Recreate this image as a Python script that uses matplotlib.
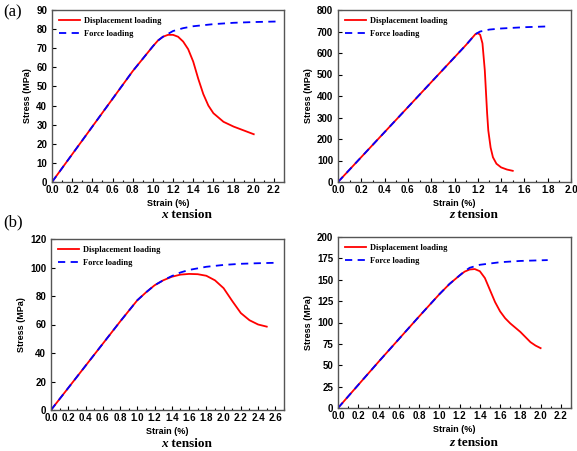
import matplotlib.pyplot as plt
import matplotlib
import numpy as np
from matplotlib.ticker import MultipleLocator

matplotlib.rcParams['font.family'] = 'Liberation Sans'
matplotlib.rcParams['font.weight'] = 'bold'

# (a) x tension
ax_disp_x = [0.0, 0.2, 0.4, 0.6, 0.8, 1.0, 1.05, 1.1, 1.15, 1.2, 1.25, 1.3, 1.35, 1.4, 1.45, 1.5, 1.55, 1.6, 1.7, 1.8, 1.9, 2.0]
ax_disp_y = [0, 14.5, 29, 43.5, 58, 71, 74, 76, 77, 77, 76, 73.5, 69.5, 63, 54, 46, 40, 36, 31.5, 29, 27, 25]
ax_force_x = [0.0, 0.2, 0.4, 0.6, 0.8, 1.0, 1.05, 1.1, 1.15, 1.2, 1.3, 1.4, 1.6, 1.8, 2.0, 2.25]
ax_force_y = [0, 14.5, 29, 43.5, 58, 71, 74, 76, 77.5, 79, 80.5, 81.5, 82.6, 83.3, 83.7, 84]

# (a) z tension
az_disp_x = [0.0, 0.2, 0.4, 0.6, 0.8, 1.0, 1.1, 1.18, 1.2, 1.22, 1.24, 1.26, 1.27, 1.28, 1.29, 1.31, 1.33, 1.36, 1.4, 1.45, 1.5]
az_disp_y = [0, 116, 232, 348, 464, 580, 638, 688, 692, 685, 645, 520, 420, 320, 240, 160, 115, 85, 68, 58, 52]
az_force_x = [0.0, 0.2, 0.4, 0.6, 0.8, 1.0, 1.1, 1.18, 1.22, 1.3, 1.4, 1.6, 1.82]
az_force_y = [0, 116, 232, 348, 464, 580, 638, 688, 700, 709, 714, 720, 724]

# (b) x tension
bx_disp_x = [0.0, 0.2, 0.4, 0.6, 0.8, 1.0, 1.1, 1.2, 1.3, 1.4, 1.5, 1.6, 1.7, 1.8, 1.9, 2.0, 2.1, 2.2, 2.3, 2.4, 2.5]
bx_disp_y = [0, 15.5, 31, 46.5, 62, 77, 82.5, 87.5, 91, 93.5, 95, 95.5, 95.3, 94.2, 91, 85.5, 76.5, 68, 63, 60, 58.5]
bx_force_x = [0.0, 0.2, 0.4, 0.6, 0.8, 1.0, 1.1, 1.2, 1.3, 1.4, 1.5, 1.6, 1.8, 2.0, 2.2, 2.4, 2.6]
bx_force_y = [0, 15.5, 31, 46.5, 62, 77, 82.5, 87.5, 91, 94, 96.5, 98.3, 100.5, 101.8, 102.6, 103, 103.3]

# (b) z tension
bz_disp_x = [0.0, 0.2, 0.4, 0.6, 0.8, 1.0, 1.1, 1.2, 1.25, 1.3, 1.35, 1.4, 1.45, 1.5, 1.55, 1.6, 1.65, 1.7, 1.75, 1.8, 1.85, 1.9, 1.95, 2.0]
bz_disp_y = [0, 27, 54, 80.5, 107, 133, 145, 155, 159.5, 162, 162.5, 160, 152, 138, 124, 113, 105, 99, 94, 89, 83, 77, 73, 70]
bz_force_x = [0.0, 0.2, 0.4, 0.6, 0.8, 1.0, 1.1, 1.2, 1.25, 1.3, 1.4, 1.6, 1.8, 2.07]
bz_force_y = [0, 27, 54, 80.5, 107, 133, 145, 155, 160, 164, 167.5, 170.5, 172, 173]

W, H = 577, 451
fig = plt.figure(figsize=(W / 100, H / 100), dpi=100)


def make_axes(l, r, t, b):
    return fig.add_axes([l / W, 1 - b / H, (r - l) / W, (b - t) / H])


# axes, data, xmax, ymax, ystep, caption name, caption y (px)
panels = [
    (make_axes(52, 284, 10, 182), ax_disp_x, ax_disp_y, ax_force_x, ax_force_y, 2.3, 90, 10, 'x', 215),
    (make_axes(338, 571, 10, 182), az_disp_x, az_disp_y, az_force_x, az_force_y, 2.0, 800, 100, 'z', 215),
    (make_axes(51, 284, 239, 410), bx_disp_x, bx_disp_y, bx_force_x, bx_force_y, 2.7, 120, 20, 'x', 444),
    (make_axes(338, 571, 237, 408), bz_disp_x, bz_disp_y, bz_force_x, bz_force_y, 2.3, 200, 25, 'z', 443),
]

for ax, dx, dy, fx, fy, xmax, ymax, ystep, name, cy in panels:
    ax.plot(dx, dy, color='#ff0000', lw=1.3, label='Displacement loading')
    ax.plot(fx, fy, color='#0000ff', lw=1.3, ls=(0, (4, 3)), label='Force loading')
    ax.set_xlim(0, xmax)
    ax.set_ylim(0, ymax)
    ax.xaxis.set_major_locator(MultipleLocator(0.2))
    ax.xaxis.set_minor_locator(MultipleLocator(0.1))
    ax.yaxis.set_major_locator(MultipleLocator(ystep))
    ax.tick_params(which='both', direction='in', labelsize=7, width=0.8, pad=2)
    ax.tick_params(axis='y', pad=3.5)
    ax.tick_params(which='major', length=3)
    ax.tick_params(which='minor', length=1.8)
    for s in ax.spines.values():
        s.set_color('#555555')
        s.set_linewidth(1.0)
    ax.set_xlabel('Strain (%)', fontsize=6.5, fontweight='bold', labelpad=3)
    ax.set_ylabel('Stress (MPa)', fontsize=6.5, fontweight='bold', labelpad=3)
    ax.legend(loc='upper left', frameon=False, handlelength=2.5, handletextpad=0.45,
              borderaxespad=0.35, borderpad=0.5, labelspacing=0.6,
              prop={'family': 'Liberation Serif', 'weight': 'bold', 'size': 6.0})
    bb = ax.get_position()
    cx = (bb.x0 + bb.x1) / 2
    fig.text(cx, 1 - cy / H, name, ha='right', va='center',
             fontsize=9.5, family='Liberation Serif', style='italic', fontweight='bold')
    fig.text(cx, 1 - cy / H, ' tension', ha='left', va='center',
             fontsize=9.5, family='Liberation Serif', fontweight='bold')

fig.text(3 / W, 1 - 12 / H, '(a)', fontsize=12, family='Liberation Serif', fontweight='normal', va='center')
fig.text(3 / W, 1 - 222 / H, '(b)', fontsize=12, family='Liberation Serif', fontweight='normal', va='center')

fig.savefig('out.png', dpi=100)
